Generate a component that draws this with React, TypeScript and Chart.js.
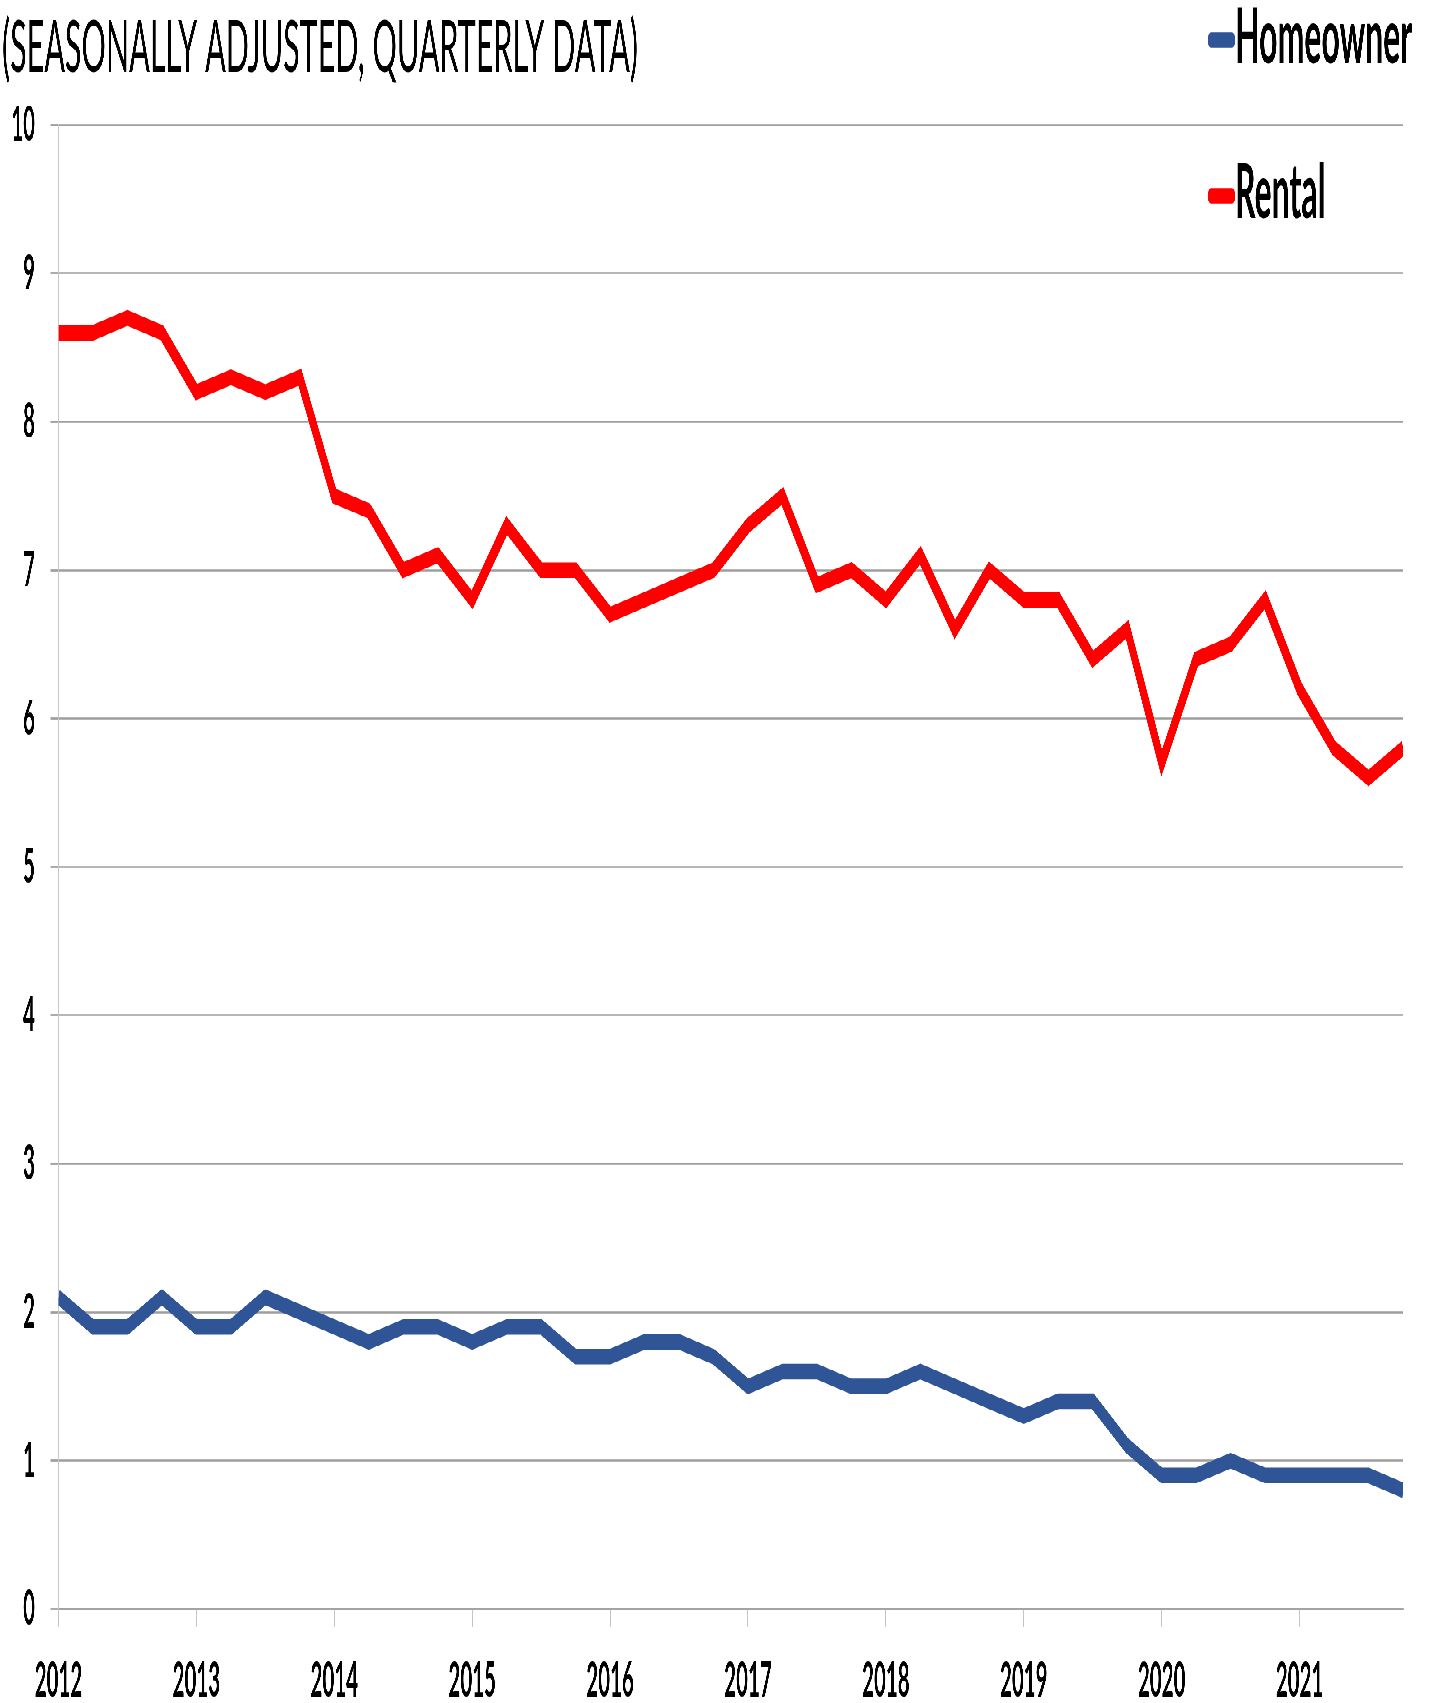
import { useEffect, useRef } from 'react';
import { Chart, registerables } from 'chart.js';

Chart.register(...registerables);

// ---- data ----
const years = ['2012', '2013', '2014', '2015', '2016', '2017', '2018', '2019', '2020', '2021'];
const quarters = ['Q1', 'Q2', 'Q3', 'Q4'];
const homeowner = [
  2.1, 1.9, 1.9, 2.1, 1.9, 1.9, 2.1, 2.0, 1.9, 1.8,
  1.9, 1.9, 1.8, 1.9, 1.9, 1.7, 1.7, 1.8, 1.8, 1.7,
  1.5, 1.6, 1.6, 1.5, 1.5, 1.6, 1.5, 1.4, 1.3, 1.4,
  1.4, 1.1, 0.9, 0.9, 1.0, 0.9, 0.9, 0.9, 0.9, 0.8,
];
const rental = [
  8.6, 8.6, 8.7, 8.6, 8.2, 8.3, 8.2, 8.3, 7.5, 7.4,
  7.0, 7.1, 6.8, 7.3, 7.0, 7.0, 6.7, 6.8, 6.9, 7.0,
  7.3, 7.5, 6.9, 7.0, 6.8, 7.1, 6.6, 7.0, 6.8, 6.8,
  6.4, 6.6, 5.7, 6.4, 6.5, 6.8, 6.2, 5.8, 5.6, 5.8,
];
const seriesNames = ['Homeowner', 'Rental'];
const seriesColors = ['#2F5597', '#FF0000'];
const titleText = '(SEASONALLY ADJUSTED, QUARTERLY DATA)';
const yMin = 0;
const yMax = 10;
const yStep = 1;

const labels: string[] = [];
years.forEach((y) => quarters.forEach((q) => labels.push(`${y} ${q}`)));

// ---- layout ----
const PAGE_W = 1440;
const PAGE_H = 1703;
const BASE_H = 710;
const STRETCH = PAGE_H / BASE_H;

const overlayPlugin = {
  id: 'overlay',
  afterDraw(chart: any) {
    const ctx = chart.ctx as CanvasRenderingContext2D;
    ctx.save();
    ctx.fillStyle = '#000';
    ctx.textAlign = 'left';
    ctx.textBaseline = 'alphabetic';
    ctx.font = '400 30.5px Lato';
    ctx.fillText(titleText, 2, 30);

    const items = [
      { y: 16.7, base: 26.3 },
      { y: 81.7, base: 90.9 },
    ];
    chart.data.datasets.forEach((ds: any, i: number) => {
      const it = items[i];
      if (!it) return;
      ctx.strokeStyle = ds.borderColor;
      ctx.lineWidth = 6.5;
      ctx.lineCap = 'round';
      ctx.beginPath();
      ctx.moveTo(1211, it.y);
      ctx.lineTo(1232, it.y);
      ctx.stroke();
      ctx.fillStyle = '#000';
      ctx.font = '700 32px Lato';
      ctx.fillText(ds.label, 1235, it.base);
    });
    ctx.restore();
  },
};

export default function App() {
  const canvasRef = useRef<HTMLCanvasElement | null>(null);

  useEffect(() => {
    if (!canvasRef.current) return;
    const lineStyle = {
      borderWidth: 6.5,
      pointRadius: 0,
      tension: 0,
      borderJoinStyle: 'miter' as const,
      clip: { left: 0, right: 0, top: false, bottom: false } as any,
    };
    const chart = new Chart(canvasRef.current, {
      type: 'line',
      data: {
        labels,
        datasets: [
          {
            label: seriesNames[0],
            data: homeowner,
            borderColor: seriesColors[0],
            backgroundColor: seriesColors[0],
            ...lineStyle,
          },
          {
            label: seriesNames[1],
            data: rental,
            borderColor: seriesColors[1],
            backgroundColor: seriesColors[1],
            ...lineStyle,
          },
        ],
      },
      options: {
        animation: false,
        responsive: true,
        maintainAspectRatio: false,
        devicePixelRatio: 3,
        layout: { padding: { top: 52.1, right: 37, left: 0, bottom: 0 } },
        plugins: {
          legend: { display: false },
          title: { display: false },
          tooltip: { enabled: false },
        },
        scales: {
          x: {
            type: 'category',
            offset: false,
            afterFit: (scale: any) => {
              scale.height = 39.2;
            },
            grid: {
              drawOnChartArea: false,
              drawTicks: true,
              tickLength: 7.5,
              lineWidth: 1,
              tickWidth: 1,
              tickColor: (c: any) => (c.index % 4 === 0 ? '#c4c4c4' : 'rgba(0,0,0,0)'),
            },
            border: { display: true, color: '#9e9e9e', width: 0.9 },
            ticks: {
              autoSkip: false,
              maxRotation: 0,
              minRotation: 0,
              padding: 10,
              color: '#000',
              font: { family: 'Lato', weight: 'bold', size: 20.5 },
              callback: (_v: any, i: number) => (i % 4 === 0 ? years[i / 4] : ''),
            },
          },
          y: {
            min: yMin,
            max: yMax,
            afterFit: (scale: any) => {
              scale.width = 58.5;
            },
            grid: {
              color: '#9e9e9e',
              lineWidth: 0.9,
              tickLength: 8,
              tickColor: '#9e9e9e',
            },
            border: { display: true, color: '#c8c8c8', width: 1 },
            ticks: {
              stepSize: yStep,
              padding: 15.5,
              color: '#000',
              font: { family: 'Lato', weight: 'bold', size: 20.5 },
            },
          },
        },
      },
      plugins: [overlayPlugin],
    });
    return () => chart.destroy();
  }, []);

  return (
    <div
      style={{
        position: 'absolute',
        left: 0,
        top: 0,
        width: PAGE_W,
        height: BASE_H,
        transform: `scaleY(${STRETCH})`,
        transformOrigin: '0 0',
        background: '#fff',
      }}
    >
      <canvas ref={canvasRef} />
    </div>
  );
}
